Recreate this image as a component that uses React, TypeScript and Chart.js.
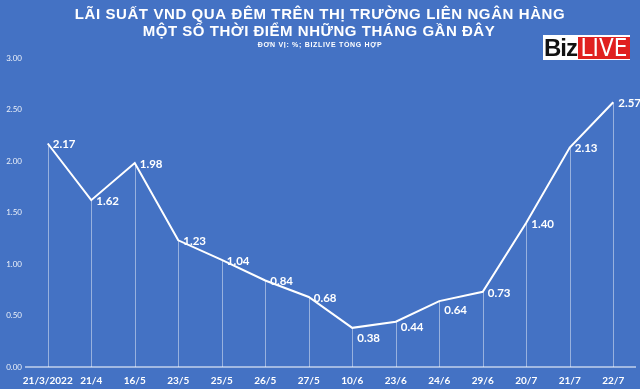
import React, { useEffect, useRef } from "react";
import { Chart, registerables } from "chart.js";

Chart.register(...registerables);

const categories = ["21/3/2022", "21/4", "16/5", "23/5", "25/5", "26/5", "27/5", "10/6", "23/6", "24/6", "29/6", "20/7", "21/7", "22/7"];
const rates = [2.17, 1.62, 1.98, 1.23, 1.04, 0.84, 0.68, 0.38, 0.44, 0.64, 0.73, 1.4, 2.13, 2.57];
const yTicks = [0, 0.5, 1, 1.5, 2, 2.5, 3];
const titleLines = ["LÃI SUẤT VND QUA ĐÊM TRÊN THỊ TRƯỜNG LIÊN NGÂN HÀNG", "MỘT SỐ THỜI ĐIỂM NHỮNG THÁNG GẦN ĐÂY"];
const subtitleText = "ĐƠN VỊ: %; BIZLIVE TỔNG HỢP";

const BG = "#4472C4";
const FONT = "Lato, 'Open Sans', sans-serif";
const TITLE_FONT = "'Liberation Sans', Arial, sans-serif";

const labelDy: Record<number, number> = { 7: 9, 8: 5, 9: 8 };

function fitText(ctx: CanvasRenderingContext2D, text: string, x: number, y: number, target: number) {
  (ctx as any).letterSpacing = "0px";
  const w = ctx.measureText(text).width;
  const extra = (target - w) / Math.max(1, text.length - 1);
  (ctx as any).letterSpacing = `${Math.max(-0.5, Math.min(2, extra))}px`;
  const w2 = ctx.measureText(text).width;
  ctx.textAlign = "left";
  ctx.fillText(text, x - w2 / 2, y);
  (ctx as any).letterSpacing = "0px";
}

const overlayPlugin = {
  id: "overlay",
  beforeDatasetsDraw(chart: any) {
    const ctx = chart.ctx;
    const meta = chart.getDatasetMeta(0);
    const yScale = chart.scales.y;
    const base = yScale.getPixelForValue(0);
    ctx.save();
    ctx.strokeStyle = "rgba(255,255,255,0.45)";
    ctx.lineWidth = 1;
    meta.data.forEach((pt: any) => {
      ctx.beginPath();
      ctx.moveTo(Math.round(pt.x) + 0.5, pt.y);
      ctx.lineTo(Math.round(pt.x) + 0.5, base);
      ctx.stroke();
    });
    ctx.restore();
  },
  afterDatasetsDraw(chart: any) {
    const ctx = chart.ctx;
    const meta = chart.getDatasetMeta(0);
    ctx.save();
    ctx.fillStyle = "#ffffff";
    ctx.font = `bold 11.5px ${FONT}`;
    ctx.textAlign = "left";
    ctx.textBaseline = "middle";
    meta.data.forEach((pt: any, i: number) => {
      const dy = labelDy[i] || 0;
      ctx.fillText(rates[i].toFixed(2), pt.x + 5, pt.y + dy + 1);
    });
    ctx.restore();
  },
  afterDraw(chart: any) {
    const ctx = chart.ctx;
    ctx.save();
    ctx.fillStyle = "#ffffff";
    ctx.textBaseline = "middle";
    ctx.font = `bold 15px ${TITLE_FONT}`;
    fitText(ctx, titleLines[0], 320, 15, 490);
    fitText(ctx, titleLines[1], 319, 32, 352);
    ctx.font = `bold 7px ${TITLE_FONT}`;
    fitText(ctx, subtitleText, 320, 45, 124);
    ctx.restore();
  },
};

export default function App() {
  const ref = useRef<HTMLCanvasElement | null>(null);
  useEffect(() => {
    document.body.style.margin = "0";
    document.body.style.background = BG;
    if (!ref.current) return;
    const chart = new Chart(ref.current, {
      type: "line",
      data: {
        labels: categories,
        datasets: [
          {
            data: rates,
            borderColor: "#ffffff",
            borderWidth: 2,
            pointRadius: 0,
            tension: 0,
            fill: false,
          },
        ],
      },
      options: {
        animation: false,
        responsive: false,
        maintainAspectRatio: false,
        layout: { padding: { top: 58, right: 5, left: 0, bottom: 0 } },
        plugins: {
          legend: { display: false },
          title: { display: false },
          tooltip: { enabled: false },
        },
        scales: {
          x: {
            offset: true,
            afterFit: (axis: any) => {
              axis.height = 22;
            },
            grid: { display: false, drawTicks: false },
            border: { display: true, color: "rgba(255,255,255,0.5)", width: 2 },
            ticks: {
              color: "#ffffff",
              font: { family: FONT, size: 10, weight: "bold" },
              padding: 8,
              maxRotation: 0,
              autoSkip: false,
            },
          },
          y: {
            min: 0,
            max: 3,
            afterBuildTicks: (axis: any) => {
              axis.ticks = yTicks.map((v) => ({ value: v }));
            },
            afterFit: (axis: any) => {
              axis.width = 26;
            },
            grid: { display: false, drawTicks: false },
            border: { display: false },
            ticks: {
              color: "rgba(255,255,255,0.9)",
              font: { family: FONT, size: 8 },
              padding: 4,
              callback: (v: any) => Number(v).toFixed(2),
            },
          },
        },
      },
      plugins: [overlayPlugin],
    });
    return () => chart.destroy();
  }, []);

  return (
    <div style={{ position: "relative", width: 640, height: 389, background: BG, overflow: "hidden" }}>
      <canvas ref={ref} width={640} height={389} style={{ display: "block" }} />
      <div
        style={{
          position: "absolute",
          left: 543,
          top: 35,
          width: 87,
          height: 25,
          background: "#ffffff",
          display: "flex",
          alignItems: "center",
          lineHeight: "25px",
        }}
      >
        <span
          style={{
            color: "#111",
            fontWeight: 700,
            fontSize: 24,
            paddingLeft: 1,
            width: 34,
            letterSpacing: -1,
            fontFamily: "'Liberation Sans', Arial, sans-serif",
          }}
        >
          Biz
        </span>
        <span
          style={{
            background: "#e0201f",
            color: "#ffffff",
            fontSize: 24,
            fontWeight: 400,
            height: 22,
            lineHeight: "22px",
            width: 52,
            textAlign: "center",
            letterSpacing: 0,
            fontFamily: "'Liberation Sans Narrow', 'DejaVu Sans Condensed', sans-serif",
          }}
        >
          LIVE
        </span>
      </div>
    </div>
  );
}
